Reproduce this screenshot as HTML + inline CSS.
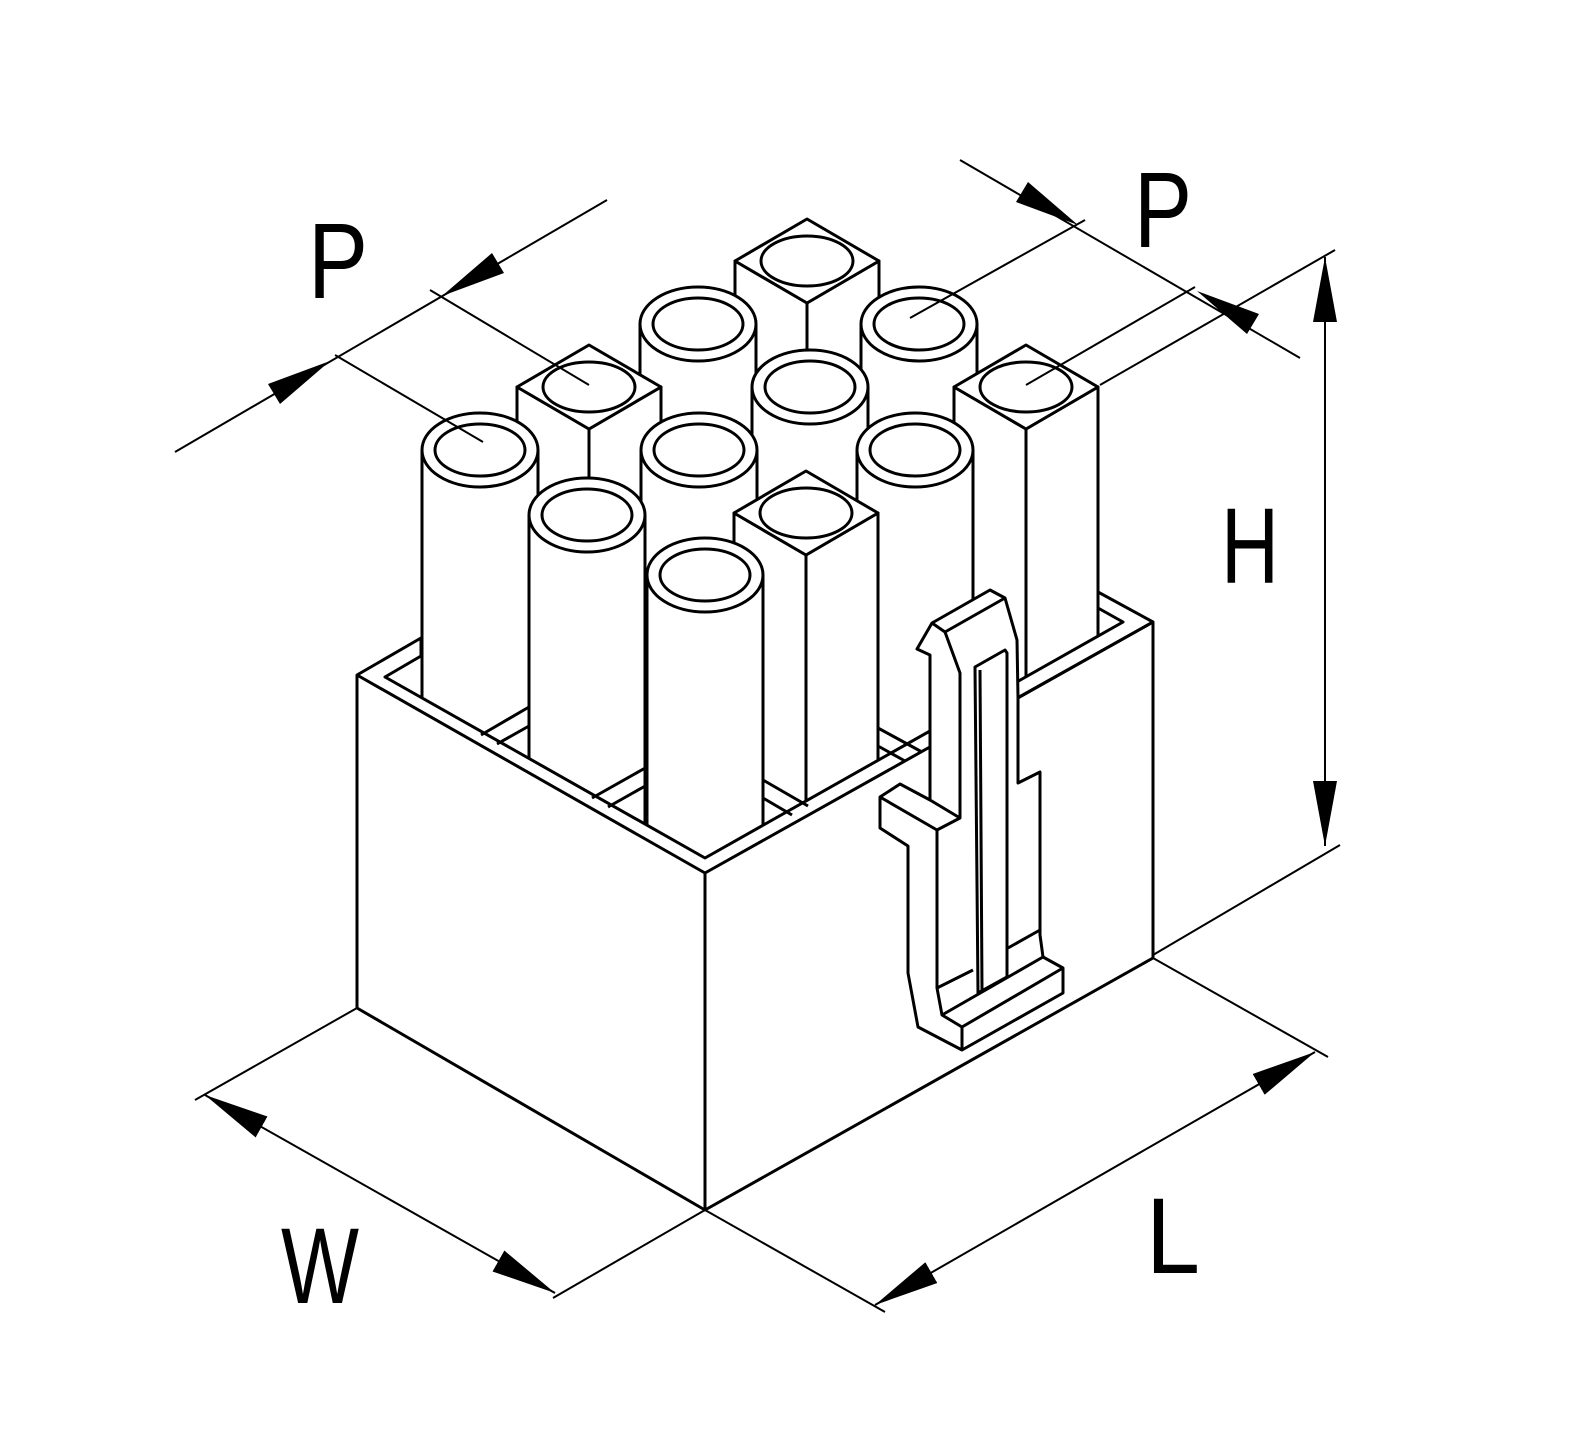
<!DOCTYPE html>
<html><head><meta charset="utf-8"><style>
html,body{margin:0;padding:0;background:#fff;}
svg{display:block;}
text{font-family:"Liberation Sans",sans-serif;font-size:108px;fill:#000;}
</style></head><body>
<svg width="1577" height="1449" viewBox="0 0 1577 1449" xmlns="http://www.w3.org/2000/svg">
<defs>
<marker id="ah" markerWidth="66" markerHeight="26" refX="65" refY="13" orient="auto-start-reverse" markerUnits="userSpaceOnUse">
<path d="M0,1 L65,13 L0,25 Z" fill="#000"/>
</marker>
</defs>
<g stroke="#000" stroke-width="3" stroke-linejoin="round" fill="#fff">
<g>
<polygon points="735,261 807,303 807,880 735,880"/><polygon points="807,303 879,261 879,880 807,880"/>
<polygon points="807,219 879,261 807,303 735,261"/><ellipse cx="807" cy="261" rx="46" ry="25"/>
</g>
<g><path d="M640,324 V880 H756 V324"/><ellipse cx="698" cy="324" rx="58" ry="37"/><ellipse cx="698" cy="324" rx="45" ry="26"/></g>
<g><path d="M861,324 V880 H977 V324"/><ellipse cx="919" cy="324" rx="58" ry="37"/><ellipse cx="919" cy="324" rx="45" ry="26"/></g>
<g>
<polygon points="517,387 589,429 589,880 517,880"/><polygon points="589,429 661,387 661,880 589,880"/>
<polygon points="589,345 661,387 589,429 517,387"/><ellipse cx="589" cy="387" rx="46" ry="25"/>
</g>
<g><path d="M752,387 V880 H868 V387"/><ellipse cx="810" cy="387" rx="58" ry="37"/><ellipse cx="810" cy="387" rx="45" ry="26"/></g>
<g>
<polygon points="954,387 1026,429 1026,880 954,880"/><polygon points="1026,429 1098,387 1098,880 1026,880"/>
<polygon points="1026,345 1098,387 1026,429 954,387"/><ellipse cx="1026" cy="387" rx="46" ry="25"/>
</g>
<g><path d="M422,450 V880 H538 V450"/><ellipse cx="480" cy="450" rx="58" ry="37"/><ellipse cx="480" cy="450" rx="45" ry="26"/></g>
<g><path d="M641,450 V880 H757 V450"/><ellipse cx="699" cy="450" rx="58" ry="37"/><ellipse cx="699" cy="450" rx="45" ry="26"/></g>
<g><path d="M857,450 V880 H973 V450"/><ellipse cx="915" cy="450" rx="58" ry="37"/><ellipse cx="915" cy="450" rx="45" ry="26"/></g>
<g><path d="M529,515 V880 H645 V515"/><ellipse cx="587" cy="515" rx="58" ry="37"/><ellipse cx="587" cy="515" rx="45" ry="26"/></g>
<g>
<polygon points="734,513 806,555 806,880 734,880"/><polygon points="806,555 878,513 878,880 806,880"/>
<polygon points="806,471 878,513 806,555 734,513"/><ellipse cx="806" cy="513" rx="46" ry="25"/>
</g>
<g><path d="M647,575 V880 H763 V575"/><ellipse cx="705" cy="575" rx="58" ry="37"/><ellipse cx="705" cy="575" rx="45" ry="26"/></g>

<!-- housing -->
<polygon points="357,675 421,638 421,656 385,677 705,858 1123,622 1098,608 1098,592 1153,622 1153,958 705,1210 357,1008"/>
<polyline fill="none" points="357,675 705,873 1153,622"/>
<line x1="705" y1="873" x2="705" y2="1210"/>
<!-- cavity partitions -->
<line x1="481" y1="735" x2="529" y2="707"/>
<line x1="497" y1="744" x2="529" y2="726"/>
<line x1="592" y1="798" x2="647" y2="767"/>
<line x1="608" y1="807" x2="647" y2="785"/>
<line x1="763" y1="780" x2="808" y2="806"/>
<line x1="763" y1="798" x2="792" y2="815"/>
<line x1="878" y1="728" x2="922" y2="752"/>
<line x1="878" y1="746" x2="905" y2="761"/>

<!-- latch -->
<polygon points="1018,783 1040,772 1040,935 1043,957 1063,968 1063,993 962,1050 918,1027 908,973 908,846 880,828 880,797 900,784 930,800 930,655 917,649 932,623 990,590 1005,598 1017,640 1018,698"/>
<polyline fill="none" points="932,623 945,632 1005,598"/>
<polyline fill="none" points="945,632 960,673 960,818 937,830 937,988 942,1015 962,1027 1063,968"/>
<polyline fill="none" points="880,797 937,830"/>
<polyline fill="none" points="930,800 960,818"/>
<line x1="962" y1="1027" x2="962" y2="1050"/>
<polyline fill="none" points="942,1015 1043,957"/>
<polyline fill="none" points="937,988 973,970"/>
<polyline fill="none" points="1008,948 1040,930"/>
<polygon points="975,667 1005,650 1007,653 1007,977 978,993"/>
<line x1="980" y1="670" x2="982" y2="990"/>
<polyline fill="none" points="1018,783 1018,698 1153,622"/>
</g>

<g stroke="#000" stroke-width="2" fill="none">
<line x1="357" y1="1008" x2="195" y2="1100"/>
<line x1="705" y1="1210" x2="553" y2="1298"/>
<line x1="205" y1="1095" x2="555" y2="1293" marker-start="url(#ah)" marker-end="url(#ah)"/>
<line x1="705" y1="1210" x2="885" y2="1312"/>
<line x1="1153" y1="958" x2="1328" y2="1057"/>
<line x1="875" y1="1305" x2="1315" y2="1052" marker-start="url(#ah)" marker-end="url(#ah)"/>
<line x1="1100" y1="385" x2="1335" y2="250"/>
<line x1="1153" y1="955" x2="1340" y2="845"/>
<line x1="1325" y1="257" x2="1325" y2="846" marker-start="url(#ah)" marker-end="url(#ah)"/>
<line x1="910" y1="318" x2="1085" y2="220"/>
<line x1="1026" y1="385" x2="1195" y2="287"/>
<line x1="960" y1="160" x2="1300" y2="358"/>
<line x1="335" y1="355" x2="483" y2="442"/>
<line x1="430" y1="290" x2="589" y2="385"/>
<line x1="175" y1="452" x2="607" y2="200"/>
</g>
<g fill="#000">
<polygon points="1078,225 1016,202 1028,182"/>
<polygon points="1197,291 1247,334 1259,314"/>
<polygon points="330,361 280,404 268,384"/>
<polygon points="442,296 504,273 492,253"/>
</g>

<text x="308" y="298" textLength="60" lengthAdjust="spacingAndGlyphs">P</text>
<text x="1134" y="247" textLength="58" lengthAdjust="spacingAndGlyphs">P</text>
<text x="1221" y="583" textLength="58" lengthAdjust="spacingAndGlyphs">H</text>
<text x="281" y="1303" textLength="78" lengthAdjust="spacingAndGlyphs">W</text>
<text x="1146" y="1273" textLength="54" lengthAdjust="spacingAndGlyphs">L</text>
</svg>
</body></html>
